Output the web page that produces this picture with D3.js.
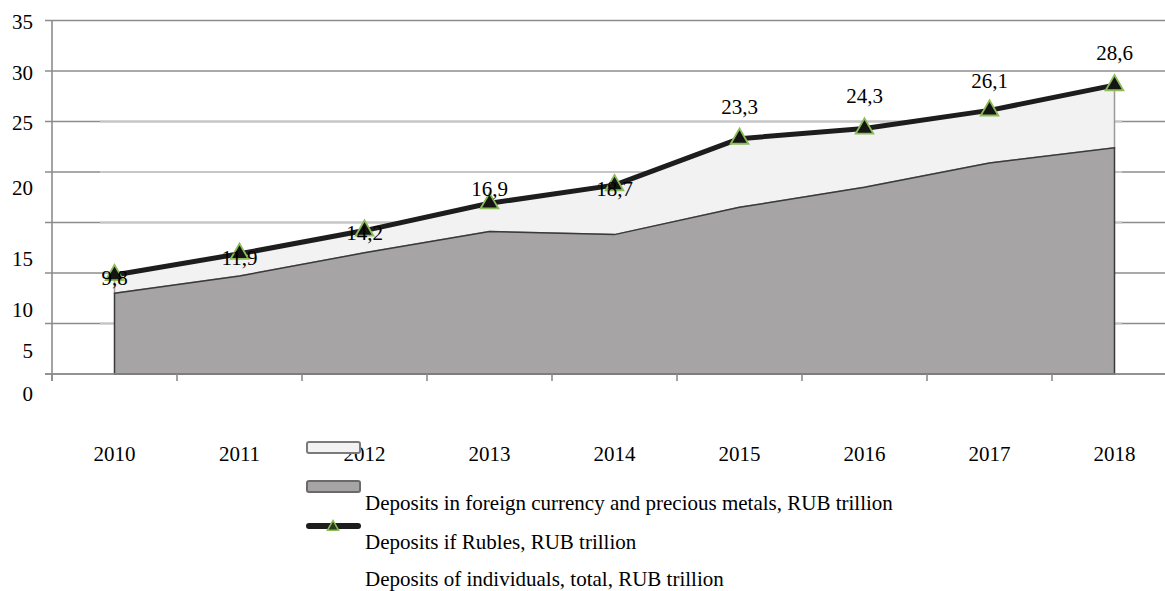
<!DOCTYPE html>
<html>
<head>
<meta charset="utf-8">
<script src="https://cdn.jsdelivr.net/npm/d3@7"></script>
<style>
  html, body { margin: 0; padding: 0; background: #fff; }
  svg { display: block; font-family: "Liberation Serif", "Times New Roman", serif; }
</style>
</head>
<body>
<svg id="chart" width="1165" height="591"></svg>
<script>
// Deposits of individuals, RUB trillion
const years = ["2010", "2011", "2012", "2013", "2014", "2015", "2016", "2017", "2018"];
const rubles = [8.0, 9.7, 12.0, 14.1, 13.8, 16.5, 18.5, 20.9, 22.4];
const foreign = [1.8, 2.2, 2.2, 2.8, 4.9, 6.8, 5.8, 5.2, 6.2];
const total = [9.8, 11.9, 14.2, 16.9, 18.7, 23.3, 24.3, 26.1, 28.6];
const totalLabels = ["9,8", "11,9", "14,2", "16,9", "18,7", "23,3", "24,3", "26,1", "28,6"];
const yTicks = [0, 5, 10, 15, 20, 25, 30, 35];
const legendLabels = [
  "Deposits in foreign currency and precious metals, RUB trillion",
  "Deposits if Rubles, RUB trillion",
  "Deposits of individuals, total, RUB trillion"
];

// layout / style
const W = 1165, H = 591;
const plotLeft = 52, plotBottom = 374, plotTop = 20.5;
const fontSize = 21;
const colDarkGrid = "#8c8c8c", colLightGrid = "#c6c6c6";
const colRubles = "#a6a4a5", colForeign = "#f2f2f2";
const lightGridTicks = [5, 15, 20, 25];
// vertical nudges of the value-axis labels and the data labels (px)
const yLabelShift = [19, 27, 36, 36, 15, 0.7, 1, 1];
const dataLabelShift = [3, 4, 2, -15, 4, -32, -33, -30, -32];

const svg = d3.select("#chart");
svg.append("rect").attr("width", W).attr("height", H).attr("fill", "#fff");

const x = d3.scaleBand().domain(years).range([plotLeft, plotLeft + 125 * years.length]).padding(0);
const cx = yr => x(yr) + x.bandwidth() / 2;
const y = d3.scaleLinear().domain([0, 35]).range([plotBottom, plotTop]);

// gridlines
const grid = svg.append("g");
grid.selectAll("line.dark").data(yTicks).join("line")
  .attr("class", "dark")
  .attr("x1", plotLeft - 7).attr("x2", W)
  .attr("y1", d => y(d)).attr("y2", d => y(d))
  .attr("stroke", colDarkGrid).attr("stroke-width", 1.6);
grid.selectAll("line.light").data(lightGridTicks).join("line")
  .attr("class", "light")
  .attr("x1", 100).attr("x2", 1122)
  .attr("y1", d => y(d)).attr("y2", d => y(d))
  .attr("stroke", colLightGrid).attr("stroke-width", 2);

// value axis line
svg.append("line")
  .attr("x1", plotLeft).attr("x2", plotLeft)
  .attr("y1", y(35)).attr("y2", plotBottom + 7)
  .attr("stroke", colDarkGrid).attr("stroke-width", 1.6);

// stacked areas
const rows = years.map((yr, i) => ({ year: yr, rubles: rubles[i], foreign: foreign[i] }));
const stacked = d3.stack().keys(["rubles", "foreign"])(rows);
const area = d3.area()
  .x(d => cx(d.data.year))
  .y0(d => y(d[0]))
  .y1(d => y(d[1]));

svg.append("path").datum(stacked[1])
  .attr("d", area)
  .attr("fill", colForeign).attr("stroke", "#9a9a9a").attr("stroke-width", 1.5);
svg.append("path").datum(stacked[0])
  .attr("d", area)
  .attr("fill", colRubles).attr("stroke", "#3a3a3a").attr("stroke-width", 1.5);

// category axis
svg.append("line")
  .attr("x1", plotLeft - 7).attr("x2", W)
  .attr("y1", plotBottom).attr("y2", plotBottom)
  .attr("stroke", colDarkGrid).attr("stroke-width", 1.6);
const bounds = years.map(yr => x(yr)).concat([x.range()[1]]);
svg.append("g").selectAll("line").data(bounds).join("line")
  .attr("x1", d => d).attr("x2", d => d)
  .attr("y1", plotBottom).attr("y2", plotBottom + 7)
  .attr("stroke", colDarkGrid).attr("stroke-width", 1.6);

const xAxis = svg.append("g")
  .attr("transform", `translate(0,${plotBottom})`)
  .call(d3.axisBottom(x).tickSize(0).tickPadding(72));
xAxis.select(".domain").remove();
xAxis.selectAll("text").attr("font-size", fontSize).attr("font-family", "Liberation Serif").attr("fill", "#000");

// value axis labels
const yAxis = svg.append("g")
  .attr("transform", `translate(${plotLeft},0)`)
  .call(d3.axisLeft(y).tickValues(yTicks).tickSize(0).tickPadding(19).tickFormat(d3.format("d")));
yAxis.select(".domain").remove();
yAxis.selectAll("text")
  .attr("font-size", fontSize).attr("font-family", "Liberation Serif").attr("fill", "#000")
  .attr("y", (d, i) => yLabelShift[i]).attr("dy", "0.35em");

// total line with markers
const pts = years.map((yr, i) => ({ year: yr, v: total[i], label: totalLabels[i], i }));
svg.append("path").datum(pts)
  .attr("d", d3.line().x(d => cx(d.year)).y(d => y(d.v)))
  .attr("fill", "none").attr("stroke", "#1d1d1d").attr("stroke-width", 5)
  .attr("stroke-linejoin", "round");

const tri = d3.symbol(d3.symbolTriangle, 135);
svg.append("g").selectAll("path").data(pts).join("path")
  .attr("d", tri)
  .attr("transform", d => `translate(${cx(d.year)},${y(d.v)})`)
  .attr("fill", "#151515").attr("stroke", "#8cbc58").attr("stroke-width", 1.8);

svg.append("g").selectAll("text").data(pts).join("text")
  .attr("x", d => cx(d.year))
  .attr("y", d => y(d.v) + dataLabelShift[d.i])
  .attr("dy", "0.35em")
  .attr("text-anchor", "middle")
  .attr("font-size", fontSize).attr("fill", "#000")
  .text(d => d.label);

// legend
const lg = svg.append("g");
lg.append("rect").attr("x", 307).attr("y", 442).attr("width", 53).attr("height", 11).attr("rx", 2)
  .attr("fill", colForeign).attr("stroke", "#7a7a7a").attr("stroke-width", 2);
lg.append("rect").attr("x", 307).attr("y", 481).attr("width", 53).attr("height", 11).attr("rx", 2)
  .attr("fill", colRubles).attr("stroke", "#6a6a6a").attr("stroke-width", 2);
lg.append("line").attr("x1", 309).attr("x2", 358).attr("y1", 526).attr("y2", 526)
  .attr("stroke", "#1d1d1d").attr("stroke-width", 6).attr("stroke-linecap", "round");
lg.append("path").attr("d", d3.symbol(d3.symbolTriangle, 55))
  .attr("transform", "translate(333,527)")
  .attr("fill", "#2a3a1a").attr("stroke", "#8cbc58").attr("stroke-width", 1.5);
lg.selectAll("text").data(legendLabels).join("text")
  .attr("x", 365)
  .attr("y", (d, i) => [510, 549, 586][i])
  .attr("font-size", fontSize).attr("fill", "#000")
  .text(d => d);
</script>
</body>
</html>
